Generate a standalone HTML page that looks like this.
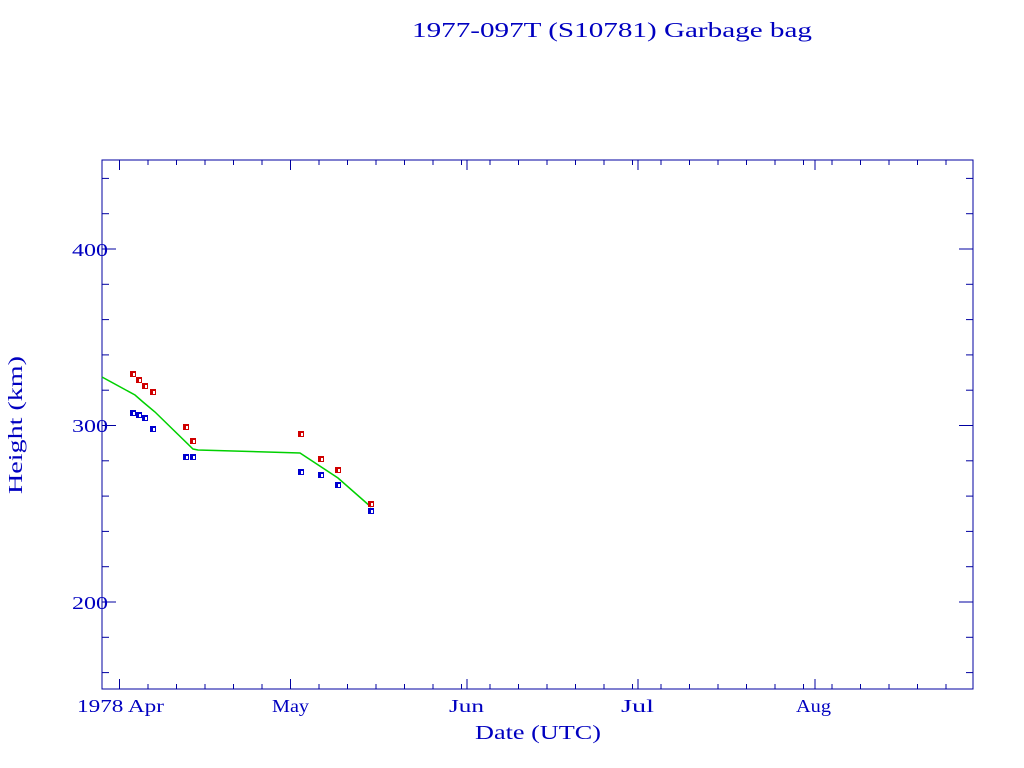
<!DOCTYPE html>
<html><head><style>body{margin:0;background:#fff}svg{display:block}</style></head><body>
<svg id="s" width="1024" height="768" xmlns="http://www.w3.org/2000/svg" font-family="Liberation Serif, serif" fill="#0000c0">
<text x="412" y="37" font-size="21" textLength="400" lengthAdjust="spacingAndGlyphs">1977-097T (S10781) Garbage bag</text>
<rect x="102" y="160" width="871" height="529" fill="none" stroke="#0000a0" stroke-width="1"/>
<g id="ticks" stroke="#0000a0" stroke-width="1"></g>
<g font-size="18">
<text x="72" y="256" textLength="36" lengthAdjust="spacingAndGlyphs">400</text>
<text x="72" y="432" textLength="36" lengthAdjust="spacingAndGlyphs">300</text>
<text x="72" y="609" textLength="36" lengthAdjust="spacingAndGlyphs">200</text>
<text x="77" y="712" textLength="87" lengthAdjust="spacingAndGlyphs">1978 Apr</text>
<text x="272" y="712" textLength="37" lengthAdjust="spacingAndGlyphs">May</text>
<text x="449" y="712" textLength="35" lengthAdjust="spacingAndGlyphs">Jun</text>
<text x="621" y="712" textLength="33" lengthAdjust="spacingAndGlyphs">Jul</text>
<text x="796" y="712" textLength="35" lengthAdjust="spacingAndGlyphs">Aug</text>
<text x="538" y="739" text-anchor="middle" font-size="20" textLength="126" lengthAdjust="spacingAndGlyphs">Date (UTC)</text>
<text transform="translate(22,425) rotate(-90)" text-anchor="middle" font-size="20" textLength="138" lengthAdjust="spacingAndGlyphs">Height (km)</text>
</g>
<polyline fill="none" stroke="#00d000" stroke-width="1.5" points="102,377 135,395 143,402 155,412 193,449 198,450 300,453 338,478 371,507"/>
<g id="pts"></g>
</svg>
<script>
var ns="http://www.w3.org/2000/svg",t=document.getElementById("ticks"),p=document.getElementById("pts");
function L(a,b,c,d,g){var e=document.createElementNS(ns,"line");e.setAttribute("x1",a);e.setAttribute("y1",b);e.setAttribute("x2",c);e.setAttribute("y2",d);(g||t).appendChild(e);}
for(var v=160;v<=440;v+=20){var y=602-(v-200)*1.765;if(y<161||y>688)continue;var len=(v%100==0)?14:7;L(102,y,102+len,y);L(973,y,973-len,y);}
var majors=[119.5,290.5,467,638,815];
majors.forEach(function(x){L(x,689,x,679);L(x,160,x,170);});
for(var d=-5;d<160;d+=5){var x=119.5+d*5.7;if(x<103||x>972)continue;L(x,689,x,684);L(x,160,x,165);}
var red=[[133,374],[139,380],[145,386],[153,392],[186,427],[193,441],[301,434],[321,459],[338,470],[371,504]];
var blue=[[133,413],[139,415],[145,418],[153,429],[186,457],[193,457],[301,472],[321,475],[338,485],[371,511]];
function M(a,c){a.forEach(function(q){var r=document.createElementNS(ns,"rect");r.setAttribute("x",q[0]-3);r.setAttribute("y",q[1]-3);r.setAttribute("width",6);r.setAttribute("height",6);r.setAttribute("fill",c);p.appendChild(r);var w=document.createElementNS(ns,"rect");w.setAttribute("x",q[0]);w.setAttribute("y",q[1]-1);w.setAttribute("width",2);w.setAttribute("height",3);w.setAttribute("fill","#fff");p.appendChild(w);});}
M(red,"#d00000");M(blue,"#0000d0");
</script>
</body></html>
